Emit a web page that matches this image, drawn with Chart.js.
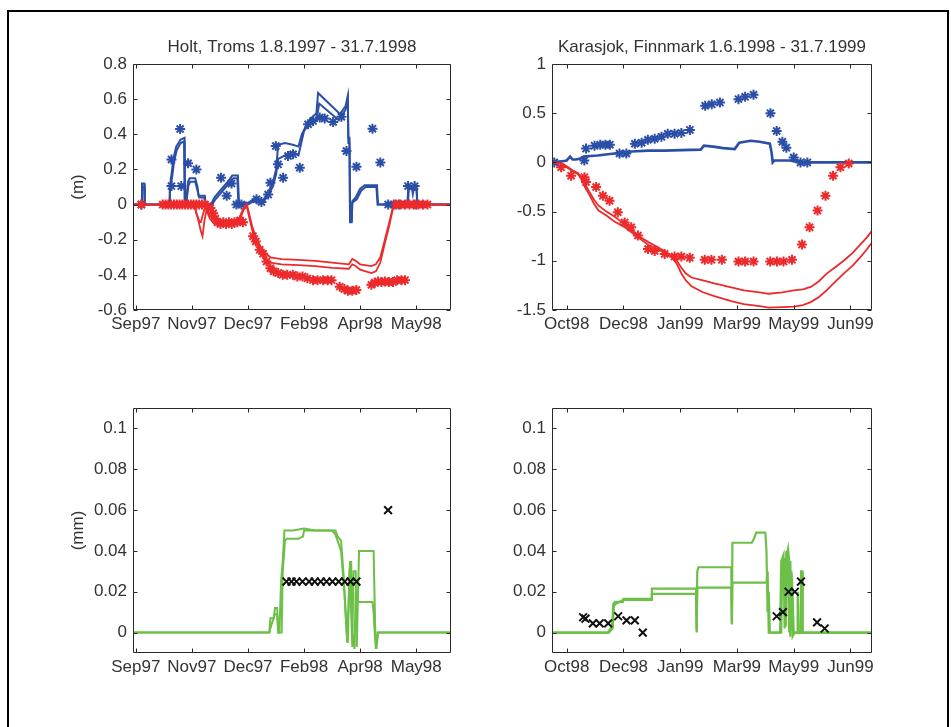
<!DOCTYPE html>
<html>
<head>
<meta charset="utf-8">
<title>Snow and frost depth</title>
<script src="https://cdn.jsdelivr.net/npm/chart.js@4.4.1/dist/chart.umd.min.js"></script>
<style>
    body { margin: 0; background: #fff; width: 951px; height: 727px; overflow: hidden; position: relative; }
    #frame { position: absolute; left: 7px; top: 10px; width: 938px; height: 800px; border: 2px solid #000; }
    canvas { position: absolute; }
</style>
</head>
<body>
<div id="frame"></div>
<canvas id="holt-depth" width="438" height="336" style="left:53px;top:19px"></canvas>
<canvas id="kara-depth" width="440" height="336" style="left:472px;top:19px"></canvas>
<canvas id="holt-rate" width="438" height="335" style="left:53px;top:363px"></canvas>
<canvas id="kara-rate" width="440" height="335" style="left:472px;top:363px"></canvas>
<script>
// x values are days counted from the first date tick, ticks every 50 days
const tickDays = [0, 50, 100, 150, 200, 250];
const holtMonths = ["Sep97", "Nov97", "Dec97", "Feb98", "Apr98", "May98"];
const karaMonths = ["Oct98", "Dec98", "Jan99", "Mar99", "May99", "Jun99"];

const holtDepthTicks = [-0.6, -0.4, -0.2, 0, 0.2, 0.4, 0.6, 0.8];
const holtDepthLabels = ["-0.6", "-0.4", "-0.2", "0", "0.2", "0.4", "0.6", "0.8"];
const karaDepthTicks = [-1.5, -1, -0.5, 0, 0.5, 1];
const karaDepthLabels = ["-1.5", "-1", "-0.5", "0", "0.5", "1"];
const rateTicks = [0, 0.02, 0.04, 0.06, 0.08, 0.1];
const rateLabels = ["0", "0.02", "0.04", "0.06", "0.08", "0.1"];

// Holt: snow depth (blue, positive) and frost depth (red, negative), [day, m]
const holtSnowHi = [[-3,0],[5,0],[5.5,0.12],[7.5,0.12],[8,0],[30,0],[30.3,0.1],[32,0.18],[33.5,0.26],[36,0.33],[40,0.37],[43.5,0.38],[44,0.02],[45,0.02],[46.5,0.13],[48,0.15],[53,0.15],[55,0.1],[56,0.05],[61.5,0.05],[62.5,0],[67,0],[70,0.04],[74,0.07],[78,0.1],[82,0.13],[86,0.165],[91,0.165],[92,0.01],[100,0.01],[105,0.03],[110,0.02],[113,0.02],[118,0.07],[122,0.12],[125,0.2],[127,0.34],[133,0.35],[140,0.34],[145,0.33],[148,0.4],[152,0.45],[156,0.49],[161,0.52],[162.5,0.635],[182,0.515],[187,0.56],[189,0.62],[189.5,0.38],[190.5,0.38],[191,-0.1],[192.5,-0.1],[193,0.02],[196,0.04],[200,0.09],[204,0.11],[215,0.11],[216,0],[242,0],[243,0.1],[246,0.1],[247,0.06],[248,0.1],[250,0.1],[251,0],[281,0]];
const holtSnowLo = [[-3,0],[5,0],[5.5,0.1],[7.5,0.1],[8,0],[30,0],[30.5,0.08],[32.5,0.16],[34,0.24],[36.5,0.31],[40,0.35],[43,0.36],[43.5,0.01],[45,0.01],[47,0.11],[48.5,0.13],[53,0.13],[55,0.08],[56.5,0.04],[61,0.04],[62,0],[68,0],[71,0.03],[75,0.06],[79,0.09],[83,0.12],[87,0.15],[90.5,0.15],[91.5,0],[100,0],[105,0.02],[110,0.01],[113,0.01],[118,0.05],[122,0.1],[125,0.17],[127,0.26],[133,0.28],[140,0.3],[145,0.28],[150,0.42],[156,0.47],[161,0.48],[163.5,0.575],[181,0.48],[187,0.54],[189,0.6],[189.5,0.35],[190.5,0.35],[191,-0.09],[192.5,-0.09],[193,0.01],[197,0.03],[201,0.08],[205,0.1],[214.5,0.1],[215.5,0],[242.5,0],[243.5,0.09],[250.5,0.09],[251,0],[281,0]];
const holtSnowObs = [[5,0],[31.8,0.105],[31.8,0.257],[39.5,0.43],[40.5,0.105],[46.6,0.235],[54,0.2],[76,0.152],[81,0.05],[85.3,0.12],[89.7,0],[94.2,0],[107.6,0.03],[112,0.015],[118,0.057],[120,0.124],[124.8,0.333],[126.8,0.229],[131.3,0.152],[135.7,0.276],[140.2,0.286],[146.2,0.21],[153.6,0.457],[158,0.476],[164,0.495],[168.4,0.49],[175.9,0.47],[183.3,0.5],[187.8,0.305],[196.7,0.215],[211,0.432],[218,0.24],[225,0],[230,0],[234.5,0],[242.7,0.105],[248.6,0.105],[250,0]];
const holtFrostHi = [[-3,0],[52,0],[54,-0.05],[57,-0.1],[58,-0.1],[61,-0.03],[63,-0.02],[66,-0.06],[70,-0.09],[75,-0.1],[85,-0.1],[92,-0.08],[96,-0.02],[99,0],[101,-0.05],[104,-0.13],[108,-0.2],[112,-0.25],[116,-0.28],[120,-0.3],[130,-0.31],[145,-0.315],[160,-0.32],[175,-0.33],[190,-0.34],[193,-0.31],[196,-0.32],[200,-0.34],[210,-0.35],[214,-0.34],[218,-0.3],[222,-0.2],[226,-0.1],[229,-0.02],[231,0],[281,0]];
const holtFrostLo = [[-3,0],[52,0],[55,-0.07],[58,-0.15],[59.5,-0.18],[61,-0.1],[63,-0.03],[66,-0.08],[70,-0.11],[75,-0.12],[85,-0.12],[92,-0.1],[96,-0.03],[99,-0.01],[101,-0.07],[104,-0.15],[108,-0.22],[112,-0.28],[116,-0.31],[120,-0.33],[130,-0.34],[145,-0.345],[160,-0.35],[175,-0.36],[190,-0.365],[193,-0.34],[196,-0.35],[200,-0.37],[210,-0.39],[214,-0.38],[218,-0.33],[222,-0.22],[226,-0.12],[229,-0.03],[232,0],[281,0]];
const holtFrostObs = [[5,0],[24,0],[26.5,0],[29,0],[31.5,0],[34,0],[36.5,0],[39,0],[41.5,0],[44,0],[46.5,0],[49,0],[51.5,0],[54,0],[56.5,0],[59,0],[61.5,0],[64,-0.01],[66.5,-0.02],[69,-0.05],[71,-0.08],[73,-0.1],[75.5,-0.11],[78,-0.1],[80.5,-0.11],[83,-0.1],[85.5,-0.11],[88,-0.1],[90.5,-0.1],[93,-0.09],[95.5,-0.1],[104.5,-0.18],[107,-0.21],[110.5,-0.257],[113.5,-0.28],[116.5,-0.324],[120,-0.362],[123,-0.38],[127,-0.39],[131,-0.4],[135,-0.4],[140,-0.4],[144,-0.41],[148.6,-0.41],[153,-0.42],[158,-0.43],[162,-0.43],[167,-0.43],[171,-0.43],[174.5,-0.43],[181.8,-0.467],[186,-0.48],[189,-0.49],[193,-0.49],[196.6,-0.486],[210,-0.457],[213,-0.445],[216,-0.438],[219,-0.44],[222,-0.438],[225.5,-0.44],[229.3,-0.44],[233,-0.43],[236.8,-0.43],[240,-0.43],[232,0],[236,0],[240,0],[244,0],[248,0],[252,0],[256,0],[260,0]];

// Karasjok: same quantities, [day, m]
const karaSnowSim = [[-13,0],[-5,0.01],[0,0.02],[3,0.06],[5,0.03],[8,0.03],[12,0.04],[15,0.06],[27,0.07],[42,0.09],[50,0.1],[57,0.11],[72,0.12],[86,0.12],[101,0.125],[118,0.13],[121,0.17],[129,0.16],[138,0.145],[148,0.135],[152,0.2],[162,0.22],[170,0.21],[179,0.19],[180.5,0.1],[181.5,0],[183,0.02],[197,0.02],[206,0],[269,0]];
const karaSnowObs = [[-11,0],[15.5,0.02],[17,0.14],[24.5,0.17],[29.5,0.18],[34,0.18],[38,0.18],[46.5,0.09],[52.5,0.09],[60,0.19],[66,0.2],[71.5,0.23],[77.5,0.24],[83.5,0.26],[89,0.29],[95,0.29],[101,0.3],[108.5,0.33],[122,0.575],[127.8,0.59],[135,0.608],[151.3,0.643],[157.2,0.666],[164.6,0.687],[179.5,0.5],[185,0.32],[190,0.21],[193.5,0.15],[200,0.05],[206,0],[212,0]];
const karaFrostHi = [[-13,0],[-5,-0.01],[0,-0.04],[5,-0.08],[10,-0.11],[13,-0.15],[16,-0.22],[20,-0.3],[24,-0.38],[28,-0.44],[35,-0.5],[42,-0.55],[50,-0.62],[57,-0.69],[65,-0.76],[72,-0.81],[80,-0.86],[86,-0.9],[93,-0.95],[97,-1.0],[101,-1.07],[105,-1.13],[110,-1.17],[120,-1.2],[130,-1.23],[145,-1.27],[156,-1.3],[170,-1.32],[178,-1.335],[190,-1.32],[200,-1.3],[208,-1.29],[215,-1.265],[222,-1.21],[229,-1.13],[236,-1.07],[244,-1.0],[252,-0.92],[259,-0.83],[264,-0.77],[270,-0.68]];
const karaFrostLo = [[-13,0],[-5,-0.01],[0,-0.05],[5,-0.09],[10,-0.12],[13,-0.17],[16,-0.25],[20,-0.33],[24,-0.42],[28,-0.49],[35,-0.54],[42,-0.6],[50,-0.65],[57,-0.71],[65,-0.78],[72,-0.84],[80,-0.88],[86,-0.92],[93,-0.97],[97,-1.03],[101,-1.13],[105,-1.2],[110,-1.26],[120,-1.32],[130,-1.36],[145,-1.41],[156,-1.44],[170,-1.46],[178,-1.475],[190,-1.47],[200,-1.465],[208,-1.45],[215,-1.42],[222,-1.37],[229,-1.3],[236,-1.22],[244,-1.13],[252,-1.05],[259,-0.96],[264,-0.89],[270,-0.8]];
const karaFrostObs = [[-5,-0.05],[3.8,-0.135],[15.6,-0.15],[17,-0.2],[25.9,-0.25],[31.8,-0.34],[37.7,-0.39],[45,-0.507],[51,-0.61],[56.8,-0.66],[62.7,-0.743],[71.6,-0.88],[77.5,-0.9],[86.3,-0.93],[95,-0.956],[101,-0.956],[108.4,-0.97],[121.6,-0.99],[127.5,-0.99],[136.7,-0.99],[151.3,-1.007],[157.2,-1.007],[164.6,-1.007],[179.3,-1.007],[185.2,-1.007],[191,-1.007],[198.5,-0.99],[207.3,-0.835],[214,-0.66],[221,-0.49],[228,-0.338],[234.7,-0.135],[241.2,-0.05],[248.5,-0.01]];

// frost penetration rate (mm), model range and observations, [day, mm]
const holtRateA = [[-3,0],[119,0],[120,0.007],[123,0.007],[124,0.012],[126,0.012],[127,0],[128,0],[129.5,0.025],[131,0.035],[132.5,0.05],[140,0.05],[150,0.051],[160,0.05],[170,0.05],[178,0.05],[180,0.047],[183,0.045],[185,0.03],[187,0.01],[188.5,-0.005],[190,0.02],[191,0.035],[192,0.01],[193,-0.007],[194,0.03],[196,0.03],[197,-0.007],[199,0.04],[212,0.04],[213.5,0],[214.5,-0.008],[216,0],[281,0]];
const holtRateB = [[-3,0],[119,0],[121,0.004],[124,0.009],[126,0.009],[127,0],[130,0],[131,0.03],[133,0.045],[134.5,0.046],[145,0.046],[149,0.047],[150,0.05],[175,0.05],[178,0.048],[183,0.04],[186,0.02],[188,0],[189,-0.005],[190.5,0.03],[192,0.035],[193,0],[195,-0.008],[196,0.02],[197,0.015],[211,0.015],[212,0.01],[213,0],[214,-0.008],[215.5,0],[281,0]];
const holtRateObs = [[134.3,0.025],[138.8,0.025],[143.2,0.025],[148.6,0.025],[154.5,0.025],[159.5,0.025],[164.9,0.025],[170,0.025],[175.3,0.025],[180.9,0.025],[186.3,0.025],[191.4,0.025],[196.7,0.025],[224.9,0.06]];

const karaRateA = [[-13,0],[36,0],[40,0.003],[41,0.014],[42.5,0.015],[49.5,0.015],[50,0.0165],[74.5,0.0165],[75,0.0215],[114,0.0215],[114.5,0],[115,0.03],[116,0.032],[145,0.032],[145.5,0.005],[146,0.044],[163,0.044],[165,0.046],[167,0.049],[175,0.049],[176,0.04],[177,0.01],[178,0.02],[179,0],[189,0],[190,0.036],[192,0.036],[193,0.003],[194,0.038],[195,0.041],[196,0.035],[197,-0.002],[198,0.03],[199,0.02],[200,0],[206,0],[206.5,0.03],[207.5,0.03],[208,0],[269,0]];
const karaRateB = [[-13,0],[37,0],[40.5,0.002],[41.5,0.013],[43,0.014],[50,0.016],[74.5,0.016],[75,0.019],[114,0.019],[114.5,0.001],[115,0.022],[145,0.022],[145.5,0.004],[146,0.0245],[176,0.0245],[177,0.03],[178,0],[188,0],[189,0.035],[191,0.038],[192,0.002],[193.5,0.04],[195,0.03],[196,0],[197,0.035],[198,0.01],[199,-0.002],[201,0],[203,0],[203.5,0.02],[204.5,0],[269,0]];
const karaRateObs = [[14.4,0.0075],[16.5,0.0068],[23,0.0045],[29,0.0045],[36.5,0.0045],[45.3,0.008],[52.7,0.006],[60,0.006],[67,0],[185,0.008],[190.5,0.01],[195.5,0.02],[201,0.02],[206.4,0.025],[220.6,0.005],[227.3,0.002]];

const BLUE = "#2b4ea6";
const RED = "#ec2a2c";
const GREEN = "#6cbf47";
const BLACK = "#111111";

Chart.defaults.font.family = '"Liberation Sans", Arial, sans-serif';
Chart.defaults.font.size = 17;
Chart.defaults.color = "#333333";

function toPoints(arr) {
    return arr.map(p => ({ x: p[0], y: p[1] }));
}

function line(arr, color, width) {
    return { data: toPoints(arr), showLine: true, borderColor: color, borderWidth: width, pointRadius: 0, tension: 0 };
}

function marks(arr, color, style, radius) {
    return { data: toPoints(arr), showLine: false, pointStyle: style, pointRadius: radius,
             borderColor: color, backgroundColor: color, pointBorderWidth: 2 };
}

// Box round the plot area, inward ticks on all four sides, title above
const matlabAxes = {
    id: "matlabAxes",
    afterDraw(chart, args, opts) {
        const { ctx, chartArea: a, scales } = chart;
        const L = Math.round(a.left) + 0.5, R = Math.round(a.right) - 0.5;
        const T = Math.round(a.top) + 0.5, B = Math.round(a.bottom) - 0.5;
        ctx.save();
        ctx.strokeStyle = "#2a2a2a";
        ctx.lineWidth = 1;
        ctx.beginPath();
        ctx.rect(L, T, R - L, B - T);
        scales.x.ticks.forEach(t => {
            const px = Math.round(scales.x.getPixelForValue(t.value)) + 0.5;
            ctx.moveTo(px, B); ctx.lineTo(px, B - 4);
            ctx.moveTo(px, T); ctx.lineTo(px, T + 4);
        });
        scales.y.ticks.forEach(t => {
            const py = Math.round(scales.y.getPixelForValue(t.value)) + 0.5;
            ctx.moveTo(L, py); ctx.lineTo(L + 4, py);
            ctx.moveTo(R, py); ctx.lineTo(R - 4, py);
        });
        ctx.stroke();
        if (opts.title) {
            ctx.fillStyle = "#333333";
            ctx.font = '17px "Liberation Sans", Arial, sans-serif';
            ctx.textAlign = "center";
            ctx.textBaseline = "alphabetic";
            ctx.fillText(opts.title, (a.left + a.right) / 2, a.top - 12);
        }
        ctx.restore();
    }
};

function makePanel(id, p) {
    new Chart(document.getElementById(id), {
        type: "scatter",
        data: { datasets: p.datasets },
        options: {
            responsive: false,
            animation: false,
            events: [],
            layout: { padding: { left: 0, top: 45, right: 40, bottom: 0 } },
            plugins: { legend: { display: false }, tooltip: { enabled: false }, matlabAxes: { title: p.title } },
            scales: {
                x: {
                    type: "linear", min: p.xMin, max: p.xMax,
                    grid: { display: false, drawTicks: false }, border: { display: false },
                    afterBuildTicks: s => { s.ticks = tickDays.map(v => ({ value: v })); },
                    afterFit: s => { s.height = 45; },
                    ticks: { autoSkip: false, maxRotation: 0, minRotation: 0, padding: 4,
                             callback: (v, i) => p.xLabels[i] }
                },
                y: {
                    type: "linear", min: p.yMin, max: p.yMax,
                    grid: { display: false, drawTicks: false }, border: { display: false },
                    afterBuildTicks: s => { s.ticks = p.yTicks.map(v => ({ value: v })); },
                    afterFit: s => { s.width = 80; },
                    ticks: { padding: 6, callback: (v, i) => p.yLabels[i] },
                    title: { display: !!p.yTitle, text: p.yTitle, padding: { top: 15, bottom: 0 } }
                }
            }
        },
        plugins: [matlabAxes]
    });
}

// first dataset in the list ends up on top
makePanel("holt-depth", {
    title: "Holt, Troms 1.8.1997 - 31.7.1998", yTitle: "(m)",
    xMin: -2.5, xMax: 281, xLabels: holtMonths,
    yMin: -0.6, yMax: 0.8, yTicks: holtDepthTicks, yLabels: holtDepthLabels,
    datasets: [
        marks(holtFrostObs, RED, "star", 5),
        line(holtFrostHi, RED, 1.8),
        line(holtFrostLo, RED, 1.8),
        marks(holtSnowObs, BLUE, "star", 5),
        line(holtSnowHi, BLUE, 2),
        line(holtSnowLo, BLUE, 2)
    ]
});

makePanel("kara-depth", {
    title: "Karasjok, Finnmark 1.6.1998 - 31.7.1999", yTitle: "",
    xMin: -13, xMax: 269, xLabels: karaMonths,
    yMin: -1.5, yMax: 1, yTicks: karaDepthTicks, yLabels: karaDepthLabels,
    datasets: [
        marks(karaFrostObs, RED, "star", 5),
        line(karaFrostHi, RED, 1.8),
        line(karaFrostLo, RED, 1.8),
        marks(karaSnowObs, BLUE, "star", 5),
        line(karaSnowSim, BLUE, 2.6)
    ]
});

makePanel("holt-rate", {
    title: "", yTitle: "(mm)",
    xMin: -2.5, xMax: 281, xLabels: holtMonths,
    yMin: -0.01, yMax: 0.11, yTicks: rateTicks, yLabels: rateLabels,
    datasets: [
        marks(holtRateObs, BLACK, "crossRot", 5.5),
        line(holtRateA, GREEN, 2),
        line(holtRateB, GREEN, 2)
    ]
});

makePanel("kara-rate", {
    title: "", yTitle: "",
    xMin: -13, xMax: 269, xLabels: karaMonths,
    yMin: -0.01, yMax: 0.11, yTicks: rateTicks, yLabels: rateLabels,
    datasets: [
        marks(karaRateObs, BLACK, "crossRot", 5.5),
        line(karaRateA, GREEN, 2.2),
        line(karaRateB, GREEN, 2.2)
    ]
});
</script>
</body>
</html>
